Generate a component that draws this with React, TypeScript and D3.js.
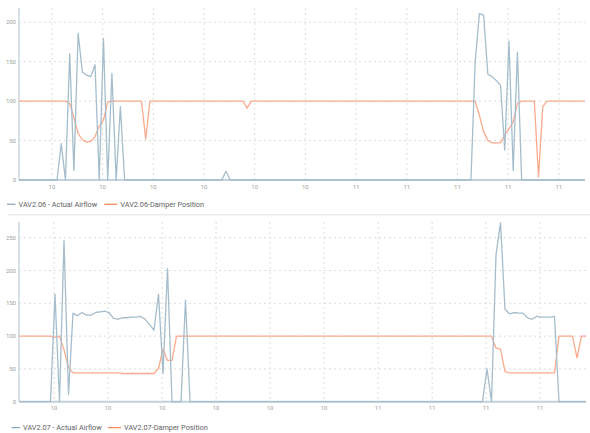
import * as d3 from "d3";

// samples every 50 s starting 09:53:30
const START = Date.UTC(2021, 2, 15, 9, 53, 30);
const STEP_MS = 50 * 1000;

const vav206Airflow = [
  0, 0, 0, 0, 0, 0, 0, 0, 0, 0,
  46, 0, 160, 12, 186, 137, 133, 131, 146, 0,
  179, 0, 135, 0, 93, 0, 0, 0, 0, 0,
  0, 0, 0, 0, 0, 0, 0, 0, 0, 0,
  0, 0, 0, 0, 0, 0, 0, 0, 0, 11,
  0, 0, 0, 0, 0, 0, 0, 0, 0, 0,
  0, 0, 0, 0, 0, 0, 0, 0, 0, 0,
  0, 0, 0, 0, 0, 0, 0, 0, 0, 0,
  0, 0, 0, 0, 0, 0, 0, 0, 0, 0,
  0, 0, 0, 0, 0, 0, 0, 0, 0, 0,
  0, 0, 0, 0, 0, 0, 0, 0, 150, 211,
  209, 134, 131, 126, 120, 38, 176, 12, 162, 0,
  0, 0, 0, 0, 0, 0, 0, 0, 0, 0,
  0, 0, 0, 0, 0
];

const vav206Damper = [
  100, 100, 100, 100, 100, 100, 100, 100, 100, 100,
  100, 100, 97, 79, 59, 51, 48, 49, 55, 68,
  76, 99, 100, 100, 100, 100, 100, 100, 100, 100,
  52, 100, 100, 100, 100, 100, 100, 100, 100, 100,
  100, 100, 100, 100, 100, 100, 100, 100, 100, 100,
  100, 100, 100, 100, 91, 100, 100, 100, 100, 100,
  100, 100, 100, 100, 100, 100, 100, 100, 100, 100,
  100, 100, 100, 100, 100, 100, 100, 100, 100, 100,
  100, 100, 100, 100, 100, 100, 100, 100, 100, 100,
  100, 100, 100, 100, 100, 100, 100, 100, 100, 100,
  100, 100, 100, 100, 100, 100, 100, 100, 100, 82,
  61, 50, 47, 47, 47, 57, 65, 74, 97, 100,
  100, 100, 100, 4, 93, 100, 100, 100, 100, 100,
  100, 100, 100, 100, 100
];

const vav207Airflow = [
  0, 0, 0, 0, 0, 0, 0, 0, 164, 0,
  246, 11, 135, 131, 136, 132, 132, 136, 137, 138,
  136, 127, 126, 128, 128, 129, 129, 130, 126, 118,
  109, 164, 43, 203, 0, 0, 0, 155, 0, 0,
  0, 0, 0, 0, 0, 0, 0, 0, 0, 0,
  0, 0, 0, 0, 0, 0, 0, 0, 0, 0,
  0, 0, 0, 0, 0, 0, 0, 0, 0, 0,
  0, 0, 0, 0, 0, 0, 0, 0, 0, 0,
  0, 0, 0, 0, 0, 0, 0, 0, 0, 0,
  0, 0, 0, 0, 0, 0, 0, 0, 0, 0,
  0, 0, 0, 0, 50, 0, 224, 273, 141, 134,
  136, 135, 135, 128, 126, 130, 129, 129, 129, 130,
  0, 0, 0, 0, 0, 0, 0
];

const vav207Damper = [
  100, 100, 100, 100, 100, 100, 100, 100, 98, 100,
  79, 52, 44, 44, 44, 44, 44, 44, 44, 44,
  44, 44, 44, 43, 43, 43, 43, 43, 43, 43,
  43, 51, 80, 63, 63, 100, 100, 100, 100, 100,
  100, 100, 100, 100, 100, 100, 100, 100, 100, 100,
  100, 100, 100, 100, 100, 100, 100, 100, 100, 100,
  100, 100, 100, 100, 100, 100, 100, 100, 100, 100,
  100, 100, 100, 100, 100, 100, 100, 100, 100, 100,
  100, 100, 100, 100, 100, 100, 100, 100, 100, 100,
  100, 100, 100, 100, 100, 100, 100, 100, 100, 100,
  100, 100, 100, 100, 100, 100, 82, 80, 46, 44,
  44, 44, 44, 44, 44, 44, 44, 44, 44, 44,
  100, 100, 100, 100, 67, 100, 100
];

const AIRFLOW_COLOR = "#a6bdcc";
const DAMPER_COLOR = "#fbab8d";
const AIRFLOW_SWATCH = "#8ea9bc";
const DAMPER_SWATCH = "#fb8b60";
const FONT = "Roboto, 'Noto Sans', sans-serif";

type PanelProps = {
  unit: string;
  airflow: number[];
  damper: number[];
  top: number;
  bottom: number;
  right: number;
  yMax: number;
  tickLabelY: number;
  legendY: number;
  legendX: number;
  damperLegendX: number;
};

function Panel({unit, airflow, damper, top, bottom, right, yMax, tickLabelY, legendY, legendX, damperLegendX}: PanelProps) {
  const left = 19;
  const times = airflow.map((_, i) => new Date(START + i * STEP_MS));
  const x = d3.scaleUtc().domain([times[0], times[times.length - 1]]).range([left, right]);
  const y = d3.scaleLinear().domain([0, yMax]).range([bottom, top]);
  const line = d3.line<number>()
    .x((_, i) => x(times[i]))
    .y((d) => y(d));
  const xTicks = x.ticks(d3.utcMinute.every(10)!);
  const yTicks = y.ticks(5);
  const hour = d3.utcFormat("%H");

  return (
    <g>
      {yTicks.filter((t) => t > 0).map((t) => (
        <line key={`hy-${t}`} x1={left} x2={right} y1={y(t)} y2={y(t)}
          stroke="#dcdcdc" strokeWidth={1} strokeDasharray="2,3" />
      ))}
      {xTicks.map((t) => (
        <line key={`vx-${+t}`} x1={x(t)} x2={x(t)} y1={top} y2={bottom}
          stroke="#dcdcdc" strokeWidth={1} strokeDasharray="2,3" />
      ))}
      {yTicks.map((t) => (
        <text key={`ly-${t}`} x={16} y={y(t) + 2} textAnchor="end" fontSize={6} fill="#a0a0a0" fontFamily={FONT}>
          {t}
        </text>
      ))}
      {xTicks.map((t) => (
        <text key={`lx-${+t}`} x={x(t)} y={tickLabelY} textAnchor="middle" fontSize={6} fill="#a0a0a0" fontFamily={FONT}>
          {hour(t)}
        </text>
      ))}
      <line x1={left} x2={left} y1={top} y2={bottom} stroke="#c9d6df" strokeWidth={1.5} />
      <line x1={left} x2={right} y1={bottom} y2={bottom} stroke="#c3d1db" strokeWidth={2} />
      <path d={line(damper) ?? ""} fill="none" stroke={DAMPER_COLOR} strokeWidth={1.3} strokeLinejoin="round" />
      <path d={line(airflow) ?? ""} fill="none" stroke={AIRFLOW_COLOR} strokeWidth={1.3} strokeLinejoin="round" />

      <line x1={legendX} x2={legendX + 8.5} y1={legendY} y2={legendY} stroke={AIRFLOW_SWATCH} strokeWidth={1.3} />
      <text x={legendX + 11.5} y={legendY + 2.6} fontSize={7.3} fill="#5f5f5f" fontFamily={FONT}>
        {`VAV2.${unit} - Actual Airflow`}
      </text>
      <line x1={damperLegendX} x2={damperLegendX + 13} y1={legendY} y2={legendY} stroke={DAMPER_SWATCH} strokeWidth={1.3} />
      <text x={damperLegendX + 16} y={legendY + 2.6} fontSize={7.3} fill="#5f5f5f" fontFamily={FONT}>
        {`VAV2.${unit}-Damper Position`}
      </text>
    </g>
  );
}

export default function App() {
  return (
    <svg width={590} height={433} style={{position: "absolute", left: 0, top: 0, background: "#fff"}}>
      <Panel unit="06" airflow={vav206Airflow} damper={vav206Damper}
        top={8} bottom={180} right={585} yMax={218}
        tickLabelY={189} legendY={204.3} legendX={7} damperLegendX={104.3} />
      <rect x={8} y={214} width={582} height={1.5} fill="#ebebeb" />
      <Panel unit="07" airflow={vav207Airflow} damper={vav207Damper}
        top={222} bottom={401.7} right={586} yMax={274}
        tickLabelY={410} legendY={427.6} legendX={11.5} damperLegendX={108} />
    </svg>
  );
}
